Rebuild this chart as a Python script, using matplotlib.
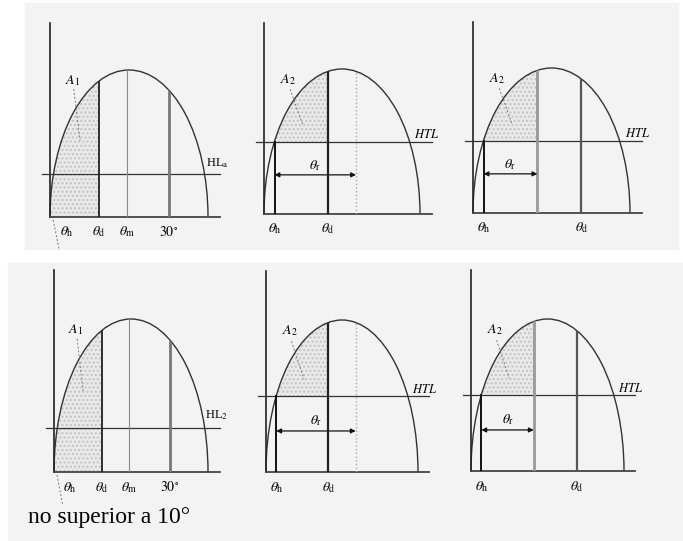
import matplotlib
matplotlib.use('Agg')
import matplotlib.pyplot as plt
from matplotlib.patches import Arc, Ellipse, Rectangle

plt.rcParams['mathtext.fontset'] = 'stix'
plt.rcParams['font.family'] = ['Liberation Serif', 'DejaVu Serif']

W, H = 683, 541

# escala de cada painel: angulo (graus) no eixo x, altura normalizada no eixo y
fim_curva = 40.0
pico = 1.0
topo_eixo = 1.32
fim_base = 43.0
inicio_linha = -2.0

# paineis A1 (esquerda)
theta_d1 = 12.4
theta_m = 19.5
trinta = 30.0
hl1 = 0.29
rotulos_a1 = [r'$\theta_\mathrm{h}$', r'$\theta_\mathrm{d}$', r'$\theta_\mathrm{m}$', r'$30^{\circ}$']
pos_rotulos_a1 = [4.2, theta_d1, theta_m, trinta]

# paineis A2 (meio e direita)
theta_h = 2.7
theta_d2 = 16.4
theta_r_fim = 23.6
theta_d3 = 27.6
htl = 0.5
seta = 0.27

# posicao dos paineis na figura (pixels: x origem, y base, largura, altura)
linha1 = [(50, 217, 158, 147), (264, 214, 156, 145), (473, 213, 157, 145)]
linha2 = [(54, 472, 154, 153), (266, 472, 152, 152), (471, 471, 153, 152)]
rotulo_hl = ['HL$_\\mathrm{a}$', 'HL$_2$']

fig = plt.figure(figsize=(W / 100, H / 100), dpi=100)
fig.patch.set_facecolor('white')
fig.add_artist(Rectangle((25 / W, 1 - 249 / H), 653 / W, 246 / H,
                         transform=fig.transFigure, color='#f3f3f3', zorder=0))
fig.add_artist(Rectangle((8 / W, 0), 675 / W, 1 - 263 / H,
                         transform=fig.transFigure, color='#f3f3f3', zorder=0))


def novo_painel(p):
    x0, yb, w, h = p
    ax = fig.add_axes([x0 / W, 1 - yb / H, w / W, h / H])
    ax.set_xlim(0, fim_curva)
    ax.set_ylim(0, pico)
    ax.axis('off')
    ax.patch.set_alpha(0)
    elipse = Ellipse((fim_curva / 2, 0), fim_curva, 2 * pico, transform=ax.transData)
    return ax, elipse


def base(ax, nivel):
    ax.plot([0, 0], [0, topo_eixo], color='#222', lw=1.2, clip_on=False)
    ax.plot([0, fim_base], [0, 0], color='#444', lw=1.3, clip_on=False)
    ax.plot([inicio_linha, fim_base], [nivel, nivel], color='#333', lw=0.9, clip_on=False)
    ax.add_patch(Arc((fim_curva / 2, 0), fim_curva, 2 * pico, theta1=0, theta2=180,
                     color='#333', lw=1.0, clip_on=False))


def vertical(ax, elipse, x, cor, lw, ls='-'):
    ln, = ax.plot([x, x], [0, pico], color=cor, lw=lw, ls=ls)
    ln.set_clip_path(elipse)


def sombra(ax, elipse, x0, x1, y0):
    r = Rectangle((x0, y0), x1 - x0, pico - y0, facecolor='#e9e9e9',
                  edgecolor='#c2c2c2', hatch='....', lw=0)
    ax.add_patch(r)
    r.set_clip_path(elipse)


def painel_a1(p, texto_hl):
    ax, el = novo_painel(p)
    sombra(ax, el, 0, theta_d1, 0)
    base(ax, hl1)
    vertical(ax, el, theta_d1, '#222', 1.3)
    vertical(ax, el, theta_m, '#888', 0.8)
    vertical(ax, el, trinta, '#777', 2.0)
    for t, x in zip(rotulos_a1, pos_rotulos_a1):
        ax.text(x, -0.1, t, ha='center', va='center', fontsize=10)
    ax.plot([0.8, 2.3], [-0.02, -0.22], color='#777', lw=0.7, ls=(0, (2, 2)), clip_on=False)
    ax.text(5.6, 0.93, '$A_1$', ha='center', va='center', fontsize=10)
    ax.plot([6.0, 7.6], [0.87, 0.52], color='#777', lw=0.7, ls=(0, (2, 2)))
    ax.text(42.3, 0.37, texto_hl, ha='center', va='center', fontsize=9)
    return ax


def painel_a2(p, x_cinza, x_d, estilo_cinza, cor_d):
    ax, el = novo_painel(p)
    sombra(ax, el, theta_h, theta_d2, htl)
    base(ax, htl)
    ax.plot([theta_h, theta_h], [0, htl], color='#111', lw=1.4)
    cor, lw, ls = estilo_cinza
    vertical(ax, el, x_cinza, cor, lw, ls)
    vertical(ax, el, x_d, cor_d, 1.6)
    # a seta theta_r vai de theta_h ate a linha cinza
    ax.annotate('', xy=(x_cinza, seta), xytext=(theta_h, seta),
                arrowprops=dict(arrowstyle='<|-|>', color='#111', lw=0.9,
                                mutation_scale=7, shrinkA=0, shrinkB=0))
    ax.text((theta_h + x_cinza) / 2, seta + 0.065, r'$\theta_\mathrm{r}$',
            ha='center', va='center', fontsize=10)
    ax.text(theta_h, -0.1, r'$\theta_\mathrm{h}$', ha='center', va='center', fontsize=10)
    ax.text(x_d, -0.1, r'$\theta_\mathrm{d}$', ha='center', va='center', fontsize=10)
    ax.text(6.2, 0.93, '$A_2$', ha='center', va='center', fontsize=10)
    ax.plot([6.7, 10.0], [0.86, 0.61], color='#777', lw=0.7, ls=(0, (2, 2)))
    ax.text(41.8, 0.545, '$HTL$', ha='center', va='center', fontsize=9)
    return ax


for linha, texto_hl in zip([linha1, linha2], rotulo_hl):
    painel_a1(linha[0], texto_hl)
    painel_a2(linha[1], theta_r_fim, theta_d2, ('#aaa', 1.0, ':'), '#222')
    painel_a2(linha[2], theta_d2, theta_d3, ('#999', 2.0, '-'), '#555')

fig.text(28 / W, 1 - 518 / H, 'no superior a 10°', ha='left', va='center', fontsize=17)

fig.savefig('out.png', dpi=100)
